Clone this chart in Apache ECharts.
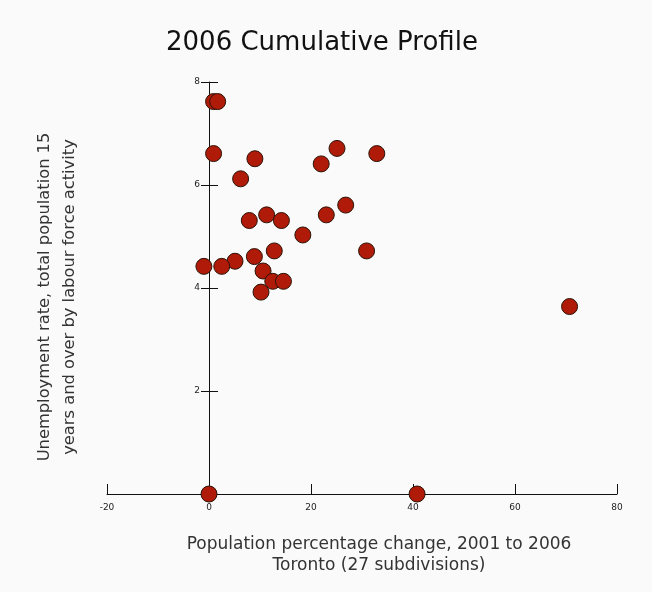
<!DOCTYPE html>
<html>
<head>
<meta charset="utf-8">
<script src="https://cdn.jsdelivr.net/npm/echarts@6/dist/echarts.min.js"></script>
<style>html,body{margin:0;padding:0;background:#fafafa}#chart{width:652px;height:592px}</style>
</head>
<body>
<div id="chart"></div>
<script>
// Population % change 2001-2006 (x) and unemployment rate (y), 27 subdivisions of Toronto
var popChange = [0.9, 1.7, 0.9, 9.0, 6.2, 22.0, 25.1, 32.9, 7.9, 11.3, 14.2, 23.0, 26.8, 18.4, 30.9, 12.8, 8.9, 5.1, 2.5, -1.0, 10.6, 12.5, 14.6, 10.2, 70.7, 40.8, 0.0];
var unemployment = [7.62, 7.62, 6.61, 6.51, 6.12, 6.41, 6.71, 6.61, 5.31, 5.42, 5.31, 5.42, 5.61, 5.03, 4.72, 4.72, 4.61, 4.52, 4.42, 4.42, 4.33, 4.13, 4.13, 3.92, 3.64, 0.0, 0.0];
var xTicks = [-20, 0, 20, 40, 60, 80];
var yTicks = [2, 4, 6, 8];
var titleText = '2006 Cumulative Profile';
var yNameLines = ['Unemployment rate, total population 15', 'years and over by labour force activity'];
var xNameLines = ['Population percentage change, 2001 to 2006', 'Toronto (27 subdivisions)'];

var points = popChange.map(function (v, i) { return [v, unemployment[i]]; });
var font = 'DejaVu Sans';

var gridLeft = 107, gridRight = 35;
var gridWidth = 652 - gridLeft - gridRight;
var xMin = xTicks[0], xMax = xTicks[xTicks.length - 1];
var zeroOffset = -gridWidth * (0 - xMin) / (xMax - xMin); // move y axis to x = 0

var chart = echarts.init(document.getElementById('chart'));
chart.setOption({
  backgroundColor: '#fafafa',
  animation: false,
  grid: { left: gridLeft, right: gridRight, top: 82, bottom: 98, containLabel: false, outerBoundsMode: 'none' },
  xAxis: {
    type: 'value', min: xMin, max: xMax, interval: 20,
    splitLine: { show: false },
    axisLine: { onZero: false, lineStyle: { color: '#111', width: 1 } },
    axisTick: { show: true, inside: true, length: 10, lineStyle: { color: '#111' } },
    axisLabel: { color: '#222', fontFamily: font, fontSize: 9, margin: 9 }
  },
  yAxis: [{
    type: 'value', min: 0, max: yTicks[yTicks.length - 1], interval: 2,
    position: 'left', offset: zeroOffset,
    splitLine: { show: false },
    axisLine: { onZero: false, lineStyle: { color: '#111', width: 1 } },
    axisTick: { show: true, length: 8, lineStyle: { color: '#111' } },
    axisLabel: { color: '#222', fontFamily: font, fontSize: 9, margin: 9,
      formatter: function (v) { return yTicks.indexOf(v) >= 0 ? String(v) : ''; } }
  }, {
    type: 'value', min: 0, max: yTicks[yTicks.length - 1], interval: 2,
    position: 'left', offset: zeroOffset,
    splitLine: { show: false },
    axisLine: { show: false, onZero: false },
    axisTick: { show: true, inside: true, length: 9, lineStyle: { color: '#111' } },
    axisLabel: { show: false }
  }],
  graphic: [
    { type: 'text', x: 322, y: 43, style: { text: titleText, font: '26px "DejaVu Sans"', fill: '#111', align: 'center', verticalAlign: 'middle' } },
    { type: 'text', x: 45, y: 297, rotation: Math.PI / 2, style: { text: yNameLines[0], font: '16.3px "DejaVu Sans"', fill: '#333', align: 'center', verticalAlign: 'middle' } },
    { type: 'text', x: 70, y: 297, rotation: Math.PI / 2, style: { text: yNameLines[1], font: '16.3px "DejaVu Sans"', fill: '#333', align: 'center', verticalAlign: 'middle' } },
    { type: 'text', x: 379, y: 545, style: { text: xNameLines[0], font: '17px "DejaVu Sans"', fill: '#333', align: 'center', verticalAlign: 'middle' } },
    { type: 'text', x: 379, y: 566, style: { text: xNameLines[1], font: '17px "DejaVu Sans"', fill: '#333', align: 'center', verticalAlign: 'middle' } }
  ],
  series: [{
    type: 'scatter', data: points, symbolSize: 16,
    itemStyle: { color: '#b01a08', borderColor: '#2b1408', borderWidth: 1, opacity: 1 }
  }]
});
</script>
</body>
</html>
